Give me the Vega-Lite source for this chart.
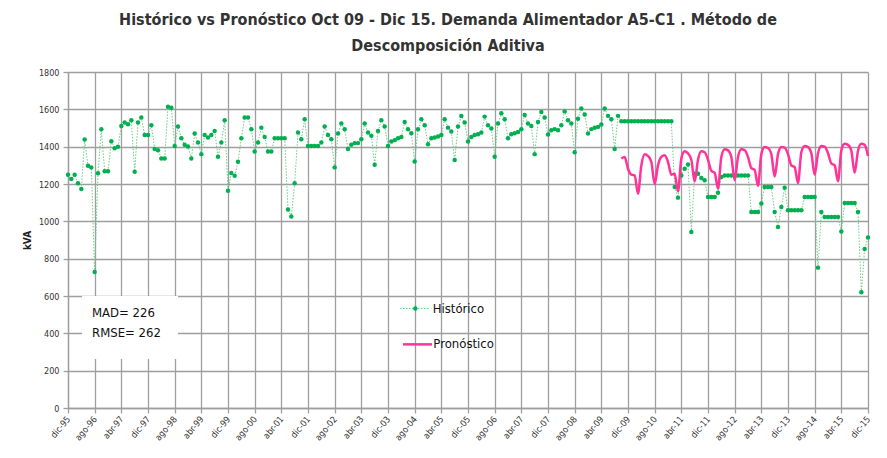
{
  "$schema": "https://vega.github.io/schema/vega-lite/v6.json",
  "width": 800,
  "height": 336,
  "autosize": {"type": "none"},
  "padding": {"left": 68, "top": 72, "right": 19, "bottom": 50},
  "background": "white",
  "title": {
    "text": ["Histórico vs Pronóstico Oct 09 - Dic 15. Demanda Alimentador  A5-C1  . Método de", "Descomposición Aditiva"],
    "font": "Liberation Sans Narrow, DejaVu Sans Condensed, sans-serif",
    "fontSize": 16,
    "fontWeight": "bold",
    "color": "#333333",
    "lineHeight": 26,
    "anchor": "middle",
    "dx": -20,
    "offset": 14
  },
  "config": {
    "view": {"stroke": null},
    "axis": {
      "labelFont": "Liberation Sans Narrow, DejaVu Sans Condensed, sans-serif",
      "labelFontSize": 9,
      "labelColor": "#333333",
      "labelOverlap": false,
      "gridColor": "#9E9E9E",
      "gridWidth": 1.3,
      "domainColor": "#9E9E9E",
      "domainWidth": 1.3,
      "tickColor": "#9E9E9E",
      "tickWidth": 1.3,
      "tickSize": 5
    }
  },
  "datasets": {
    "historico": [
      {"t":0,"kva":1250},{"t":1,"kva":1227},{"t":2,"kva":1250},{"t":3,"kva":1204},{"t":4,"kva":1173},{"t":5,"kva":1438},{"t":6,"kva":1298},{"t":7,"kva":1289},{"t":8,"kva":729},{"t":9,"kva":1257},{"t":10,"kva":1493},{"t":11,"kva":1268},
      {"t":12,"kva":1268},{"t":13,"kva":1429},{"t":14,"kva":1392},{"t":15,"kva":1399},{"t":16,"kva":1511},{"t":17,"kva":1529},{"t":18,"kva":1520},{"t":19,"kva":1541},{"t":20,"kva":1266},{"t":21,"kva":1529},{"t":22,"kva":1556},{"t":23,"kva":1463},
      {"t":24,"kva":1463},{"t":25,"kva":1515},{"t":26,"kva":1387},{"t":27,"kva":1381},{"t":28,"kva":1337},{"t":29,"kva":1337},{"t":30,"kva":1614},{"t":31,"kva":1609},{"t":32,"kva":1404},{"t":33,"kva":1508},{"t":34,"kva":1445},{"t":35,"kva":1410},
      {"t":36,"kva":1401},{"t":37,"kva":1337},{"t":38,"kva":1470},{"t":39,"kva":1422},{"t":40,"kva":1360},{"t":41,"kva":1463},{"t":42,"kva":1449},{"t":43,"kva":1463},{"t":44,"kva":1484},{"t":45,"kva":1346},{"t":46,"kva":1422},{"t":47,"kva":1541},
      {"t":48,"kva":1164},{"t":49,"kva":1259},{"t":50,"kva":1244},{"t":51,"kva":1319},{"t":52,"kva":1445},{"t":53,"kva":1556},{"t":54,"kva":1556},{"t":55,"kva":1493},{"t":56,"kva":1374},{"t":57,"kva":1422},{"t":58,"kva":1502},{"t":59,"kva":1452},
      {"t":60,"kva":1374},{"t":61,"kva":1374},{"t":62,"kva":1445},{"t":63,"kva":1445},{"t":64,"kva":1445},{"t":65,"kva":1445},{"t":66,"kva":1063},{"t":67,"kva":1026},{"t":68,"kva":1204},{"t":69,"kva":1476},{"t":70,"kva":1440},{"t":71,"kva":1547},
      {"t":72,"kva":1404},{"t":73,"kva":1404},{"t":74,"kva":1404},{"t":75,"kva":1404},{"t":76,"kva":1422},{"t":77,"kva":1508},{"t":78,"kva":1463},{"t":79,"kva":1440},{"t":80,"kva":1289},{"t":81,"kva":1470},{"t":82,"kva":1524},{"t":83,"kva":1493},
      {"t":84,"kva":1387},{"t":85,"kva":1410},{"t":86,"kva":1419},{"t":87,"kva":1419},{"t":88,"kva":1440},{"t":89,"kva":1524},{"t":90,"kva":1476},{"t":91,"kva":1458},{"t":92,"kva":1303},{"t":93,"kva":1484},{"t":94,"kva":1541},{"t":95,"kva":1508},
      {"t":96,"kva":1404},{"t":97,"kva":1428},{"t":98,"kva":1435},{"t":99,"kva":1445},{"t":100,"kva":1452},{"t":101,"kva":1532},{"t":102,"kva":1493},{"t":103,"kva":1472},{"t":104,"kva":1321},{"t":105,"kva":1493},{"t":106,"kva":1547},{"t":107,"kva":1515},
      {"t":108,"kva":1413},{"t":109,"kva":1445},{"t":110,"kva":1449},{"t":111,"kva":1454},{"t":112,"kva":1463},{"t":113,"kva":1547},{"t":114,"kva":1502},{"t":115,"kva":1481},{"t":116,"kva":1328},{"t":117,"kva":1508},{"t":118,"kva":1564},{"t":119,"kva":1529},
      {"t":120,"kva":1428},{"t":121,"kva":1452},{"t":122,"kva":1463},{"t":123,"kva":1467},{"t":124,"kva":1476},{"t":125,"kva":1561},{"t":126,"kva":1515},{"t":127,"kva":1497},{"t":128,"kva":1346},{"t":129,"kva":1524},{"t":130,"kva":1579},{"t":131,"kva":1547},
      {"t":132,"kva":1445},{"t":133,"kva":1467},{"t":134,"kva":1472},{"t":135,"kva":1479},{"t":136,"kva":1493},{"t":137,"kva":1570},{"t":138,"kva":1524},{"t":139,"kva":1511},{"t":140,"kva":1360},{"t":141,"kva":1532},{"t":142,"kva":1586},{"t":143,"kva":1556},
      {"t":144,"kva":1465},{"t":145,"kva":1488},{"t":146,"kva":1494},{"t":147,"kva":1488},{"t":148,"kva":1515},{"t":149,"kva":1589},{"t":150,"kva":1542},{"t":151,"kva":1524},{"t":152,"kva":1370},{"t":153,"kva":1550},{"t":154,"kva":1604},{"t":155,"kva":1572},
      {"t":156,"kva":1471},{"t":157,"kva":1494},{"t":158,"kva":1501},{"t":159,"kva":1506},{"t":160,"kva":1519},{"t":161,"kva":1604},{"t":162,"kva":1565},{"t":163,"kva":1547},{"t":164,"kva":1388},{"t":165,"kva":1565},{"t":166,"kva":1536},{"t":167,"kva":1536},
      {"t":168,"kva":1536},{"t":169,"kva":1536},{"t":170,"kva":1536},{"t":171,"kva":1536},{"t":172,"kva":1536},{"t":173,"kva":1536},{"t":174,"kva":1536},{"t":175,"kva":1536},{"t":176,"kva":1536},{"t":177,"kva":1536},{"t":178,"kva":1536},{"t":179,"kva":1536},
      {"t":180,"kva":1536},{"t":181,"kva":1536},{"t":182,"kva":1184},{"t":183,"kva":1127},{"t":184,"kva":1246},{"t":185,"kva":1282},{"t":186,"kva":1304},{"t":187,"kva":943},{"t":188,"kva":1255},{"t":189,"kva":1255},{"t":190,"kva":1232},{"t":191,"kva":1220},
      {"t":192,"kva":1130},{"t":193,"kva":1130},{"t":194,"kva":1130},{"t":195,"kva":1153},{"t":196,"kva":1237},{"t":197,"kva":1246},{"t":198,"kva":1246},{"t":199,"kva":1246},{"t":200,"kva":1246},{"t":201,"kva":1246},{"t":202,"kva":1246},{"t":203,"kva":1246},
      {"t":204,"kva":1246},{"t":205,"kva":1050},{"t":206,"kva":1050},{"t":207,"kva":1050},{"t":208,"kva":1095},{"t":209,"kva":1184},{"t":210,"kva":1184},{"t":211,"kva":1184},{"t":212,"kva":1050},{"t":213,"kva":970},{"t":214,"kva":1077},{"t":215,"kva":1180},
      {"t":216,"kva":1059},{"t":217,"kva":1059},{"t":218,"kva":1059},{"t":219,"kva":1059},{"t":220,"kva":1059},{"t":221,"kva":1130},{"t":222,"kva":1130},{"t":223,"kva":1130},{"t":224,"kva":1130},{"t":225,"kva":752},{"t":226,"kva":1050},{"t":227,"kva":1023},
      {"t":228,"kva":1023},{"t":229,"kva":1023},{"t":230,"kva":1023},{"t":231,"kva":1023},{"t":232,"kva":946},{"t":233,"kva":1098},{"t":234,"kva":1098},{"t":235,"kva":1098},{"t":236,"kva":1098},{"t":237,"kva":1050},{"t":238,"kva":620},{"t":239,"kva":852},
      {"t":240,"kva":914}
    ],
    "pronostico": [
      {"t":166,"kva":1336},{"t":167,"kva":1345},{"t":168,"kva":1282},{"t":169,"kva":1250},{"t":170,"kva":1246},{"t":171,"kva":1148},{"t":172,"kva":1300},{"t":173,"kva":1360},{"t":174,"kva":1350},{"t":175,"kva":1318},{"t":176,"kva":1200},{"t":177,"kva":1300},
      {"t":178,"kva":1345},{"t":179,"kva":1354},{"t":180,"kva":1318},{"t":181,"kva":1250},{"t":182,"kva":1255},{"t":183,"kva":1160},{"t":184,"kva":1336},{"t":185,"kva":1375},{"t":186,"kva":1364},{"t":187,"kva":1330},{"t":188,"kva":1213},{"t":189,"kva":1330},
      {"t":190,"kva":1375},{"t":191,"kva":1370},{"t":192,"kva":1330},{"t":193,"kva":1270},{"t":194,"kva":1260},{"t":195,"kva":1175},{"t":196,"kva":1345},{"t":197,"kva":1386},{"t":198,"kva":1380},{"t":199,"kva":1345},{"t":200,"kva":1220},{"t":201,"kva":1345},
      {"t":202,"kva":1386},{"t":203,"kva":1382},{"t":204,"kva":1345},{"t":205,"kva":1285},{"t":206,"kva":1275},{"t":207,"kva":1190},{"t":208,"kva":1360},{"t":209,"kva":1398},{"t":210,"kva":1393},{"t":211,"kva":1360},{"t":212,"kva":1240},{"t":213,"kva":1360},
      {"t":214,"kva":1398},{"t":215,"kva":1395},{"t":216,"kva":1360},{"t":217,"kva":1300},{"t":218,"kva":1290},{"t":219,"kva":1205},{"t":220,"kva":1370},{"t":221,"kva":1404},{"t":222,"kva":1398},{"t":223,"kva":1365},{"t":224,"kva":1250},{"t":225,"kva":1365},
      {"t":226,"kva":1404},{"t":227,"kva":1400},{"t":228,"kva":1365},{"t":229,"kva":1310},{"t":230,"kva":1300},{"t":231,"kva":1215},{"t":232,"kva":1380},{"t":233,"kva":1415},{"t":234,"kva":1410},{"t":235,"kva":1378},{"t":236,"kva":1260},{"t":237,"kva":1378},
      {"t":238,"kva":1415},{"t":239,"kva":1410},{"t":240,"kva":1350}
    ],
    "nota": [{"id": 1}]
  },
  "layer": [
    {
      "data": {"name": "historico"},
      "mark": {"type": "line", "color": "#6CCB8C", "strokeWidth": 1, "strokeDash": [1.5, 1.5]},
      "encoding": {
        "x": {"field": "t", "type": "quantitative", "scale": {"domain": [0, 240], "nice": false, "zero": false},
          "axis": {"title": null, "values": [0,8,16,24,32,40,48,56,64,72,80,88,96,104,112,120,128,136,144,152,160,168,176,184,192,200,208,216,224,232,240], "labelExpr": "['dic','ene','feb','mar','abr','may','jun','jul','ago','sep','oct','nov'][datum.value % 12] + '-' + ((((95 + floor((datum.value + 11) / 12)) % 100) < 10) ? '0' : '') + ((95 + floor((datum.value + 11) / 12)) % 100)", "labelAngle": -50, "labelPadding": 4, "grid": true}},
        "y": {"field": "kva", "type": "quantitative", "scale": {"domain": [0, 1800], "nice": false},
          "axis": {"title": "kVA", "titleFont": "Liberation Sans Narrow, DejaVu Sans Condensed, sans-serif", "titleFontSize": 10, "titleFontWeight": "bold", "titleColor": "#222222", "titlePadding": 6, "format": "d", "values": [0,200,400,600,800,1000,1200,1400,1600,1800], "labelPadding": 4, "grid": true}}
      }
    },
    {
      "data": {"name": "nota"},
      "mark": {"type": "rect", "fill": "white", "stroke": null},
      "encoding": {
        "x": {"datum": 4.2, "type": "quantitative", "scale": {"domain": [0, 240], "nice": false, "zero": false},
          "axis": {"title": null, "values": [0,8,16,24,32,40,48,56,64,72,80,88,96,104,112,120,128,136,144,152,160,168,176,184,192,200,208,216,224,232,240], "labelExpr": "['dic','ene','feb','mar','abr','may','jun','jul','ago','sep','oct','nov'][datum.value % 12] + '-' + ((((95 + floor((datum.value + 11) / 12)) % 100) < 10) ? '0' : '') + ((95 + floor((datum.value + 11) / 12)) % 100)", "labelAngle": -50, "labelPadding": 4, "grid": true}},
        "x2": {"datum": 33},
        "y": {"datum": 262, "type": "quantitative", "scale": {"domain": [0, 1800], "nice": false},
          "axis": {"title": "kVA", "titleFont": "Liberation Sans Narrow, DejaVu Sans Condensed, sans-serif", "titleFontSize": 10, "titleFontWeight": "bold", "titleColor": "#222222", "titlePadding": 6, "format": "d", "values": [0,200,400,600,800,1000,1200,1400,1600,1800], "labelPadding": 4, "grid": true}},
        "y2": {"datum": 600}
      }
    },
    {
      "data": {"name": "nota"},
      "mark": {"type": "text", "align": "left", "baseline": "middle", "fontSize": 13, "font": "Liberation Sans Narrow, DejaVu Sans Condensed, sans-serif", "color": "#111111"},
      "encoding": {
        "x": {"datum": 7.2, "type": "quantitative", "scale": {"domain": [0, 240], "nice": false, "zero": false},
          "axis": {"title": null, "values": [0,8,16,24,32,40,48,56,64,72,80,88,96,104,112,120,128,136,144,152,160,168,176,184,192,200,208,216,224,232,240], "labelExpr": "['dic','ene','feb','mar','abr','may','jun','jul','ago','sep','oct','nov'][datum.value % 12] + '-' + ((((95 + floor((datum.value + 11) / 12)) % 100) < 10) ? '0' : '') + ((95 + floor((datum.value + 11) / 12)) % 100)", "labelAngle": -50, "labelPadding": 4, "grid": true}},
        "y": {"datum": 507, "type": "quantitative", "scale": {"domain": [0, 1800], "nice": false},
          "axis": {"title": "kVA", "titleFont": "Liberation Sans Narrow, DejaVu Sans Condensed, sans-serif", "titleFontSize": 10, "titleFontWeight": "bold", "titleColor": "#222222", "titlePadding": 6, "format": "d", "values": [0,200,400,600,800,1000,1200,1400,1600,1800], "labelPadding": 4, "grid": true}},
        "text": {"value": "MAD= 226"}
      }
    },
    {
      "data": {"name": "nota"},
      "mark": {"type": "text", "align": "left", "baseline": "middle", "fontSize": 13, "font": "Liberation Sans Narrow, DejaVu Sans Condensed, sans-serif", "color": "#111111"},
      "encoding": {
        "x": {"datum": 7.2, "type": "quantitative", "scale": {"domain": [0, 240], "nice": false, "zero": false},
          "axis": {"title": null, "values": [0,8,16,24,32,40,48,56,64,72,80,88,96,104,112,120,128,136,144,152,160,168,176,184,192,200,208,216,224,232,240], "labelExpr": "['dic','ene','feb','mar','abr','may','jun','jul','ago','sep','oct','nov'][datum.value % 12] + '-' + ((((95 + floor((datum.value + 11) / 12)) % 100) < 10) ? '0' : '') + ((95 + floor((datum.value + 11) / 12)) % 100)", "labelAngle": -50, "labelPadding": 4, "grid": true}},
        "y": {"datum": 400, "type": "quantitative", "scale": {"domain": [0, 1800], "nice": false},
          "axis": {"title": "kVA", "titleFont": "Liberation Sans Narrow, DejaVu Sans Condensed, sans-serif", "titleFontSize": 10, "titleFontWeight": "bold", "titleColor": "#222222", "titlePadding": 6, "format": "d", "values": [0,200,400,600,800,1000,1200,1400,1600,1800], "labelPadding": 4, "grid": true}},
        "text": {"value": "RMSE= 262"}
      }
    },
    {
      "data": {"name": "nota"},
      "mark": {"type": "rule", "color": "#6CCB8C", "strokeWidth": 1, "strokeDash": [1.5, 1.5]},
      "encoding": {
        "x": {"datum": 99.6, "type": "quantitative", "scale": {"domain": [0, 240], "nice": false, "zero": false},
          "axis": {"title": null, "values": [0,8,16,24,32,40,48,56,64,72,80,88,96,104,112,120,128,136,144,152,160,168,176,184,192,200,208,216,224,232,240], "labelExpr": "['dic','ene','feb','mar','abr','may','jun','jul','ago','sep','oct','nov'][datum.value % 12] + '-' + ((((95 + floor((datum.value + 11) / 12)) % 100) < 10) ? '0' : '') + ((95 + floor((datum.value + 11) / 12)) % 100)", "labelAngle": -50, "labelPadding": 4, "grid": true}},
        "x2": {"datum": 108.2},
        "y": {"datum": 533, "type": "quantitative", "scale": {"domain": [0, 1800], "nice": false},
          "axis": {"title": "kVA", "titleFont": "Liberation Sans Narrow, DejaVu Sans Condensed, sans-serif", "titleFontSize": 10, "titleFontWeight": "bold", "titleColor": "#222222", "titlePadding": 6, "format": "d", "values": [0,200,400,600,800,1000,1200,1400,1600,1800], "labelPadding": 4, "grid": true}}
      }
    },
    {
      "data": {"name": "nota"},
      "mark": {"type": "point", "filled": true, "color": "#00B050", "size": 20, "opacity": 1},
      "encoding": {
        "x": {"datum": 104.2, "type": "quantitative", "scale": {"domain": [0, 240], "nice": false, "zero": false},
          "axis": {"title": null, "values": [0,8,16,24,32,40,48,56,64,72,80,88,96,104,112,120,128,136,144,152,160,168,176,184,192,200,208,216,224,232,240], "labelExpr": "['dic','ene','feb','mar','abr','may','jun','jul','ago','sep','oct','nov'][datum.value % 12] + '-' + ((((95 + floor((datum.value + 11) / 12)) % 100) < 10) ? '0' : '') + ((95 + floor((datum.value + 11) / 12)) % 100)", "labelAngle": -50, "labelPadding": 4, "grid": true}},
        "y": {"datum": 533, "type": "quantitative", "scale": {"domain": [0, 1800], "nice": false},
          "axis": {"title": "kVA", "titleFont": "Liberation Sans Narrow, DejaVu Sans Condensed, sans-serif", "titleFontSize": 10, "titleFontWeight": "bold", "titleColor": "#222222", "titlePadding": 6, "format": "d", "values": [0,200,400,600,800,1000,1200,1400,1600,1800], "labelPadding": 4, "grid": true}}
      }
    },
    {
      "data": {"name": "nota"},
      "mark": {"type": "text", "align": "left", "baseline": "middle", "fontSize": 13, "font": "Liberation Sans Narrow, DejaVu Sans Condensed, sans-serif", "color": "#111111"},
      "encoding": {
        "x": {"datum": 109.4, "type": "quantitative", "scale": {"domain": [0, 240], "nice": false, "zero": false},
          "axis": {"title": null, "values": [0,8,16,24,32,40,48,56,64,72,80,88,96,104,112,120,128,136,144,152,160,168,176,184,192,200,208,216,224,232,240], "labelExpr": "['dic','ene','feb','mar','abr','may','jun','jul','ago','sep','oct','nov'][datum.value % 12] + '-' + ((((95 + floor((datum.value + 11) / 12)) % 100) < 10) ? '0' : '') + ((95 + floor((datum.value + 11) / 12)) % 100)", "labelAngle": -50, "labelPadding": 4, "grid": true}},
        "y": {"datum": 533, "type": "quantitative", "scale": {"domain": [0, 1800], "nice": false},
          "axis": {"title": "kVA", "titleFont": "Liberation Sans Narrow, DejaVu Sans Condensed, sans-serif", "titleFontSize": 10, "titleFontWeight": "bold", "titleColor": "#222222", "titlePadding": 6, "format": "d", "values": [0,200,400,600,800,1000,1200,1400,1600,1800], "labelPadding": 4, "grid": true}},
        "text": {"value": "Histórico"}
      }
    },
    {
      "data": {"name": "nota"},
      "mark": {"type": "rule", "color": "#FF3399", "strokeWidth": 2.5},
      "encoding": {
        "x": {"datum": 100.5, "type": "quantitative", "scale": {"domain": [0, 240], "nice": false, "zero": false},
          "axis": {"title": null, "values": [0,8,16,24,32,40,48,56,64,72,80,88,96,104,112,120,128,136,144,152,160,168,176,184,192,200,208,216,224,232,240], "labelExpr": "['dic','ene','feb','mar','abr','may','jun','jul','ago','sep','oct','nov'][datum.value % 12] + '-' + ((((95 + floor((datum.value + 11) / 12)) % 100) < 10) ? '0' : '') + ((95 + floor((datum.value + 11) / 12)) % 100)", "labelAngle": -50, "labelPadding": 4, "grid": true}},
        "x2": {"datum": 109.2},
        "y": {"datum": 341, "type": "quantitative", "scale": {"domain": [0, 1800], "nice": false},
          "axis": {"title": "kVA", "titleFont": "Liberation Sans Narrow, DejaVu Sans Condensed, sans-serif", "titleFontSize": 10, "titleFontWeight": "bold", "titleColor": "#222222", "titlePadding": 6, "format": "d", "values": [0,200,400,600,800,1000,1200,1400,1600,1800], "labelPadding": 4, "grid": true}}
      }
    },
    {
      "data": {"name": "nota"},
      "mark": {"type": "text", "align": "left", "baseline": "middle", "fontSize": 13, "font": "Liberation Sans Narrow, DejaVu Sans Condensed, sans-serif", "color": "#111111"},
      "encoding": {
        "x": {"datum": 109.6, "type": "quantitative", "scale": {"domain": [0, 240], "nice": false, "zero": false},
          "axis": {"title": null, "values": [0,8,16,24,32,40,48,56,64,72,80,88,96,104,112,120,128,136,144,152,160,168,176,184,192,200,208,216,224,232,240], "labelExpr": "['dic','ene','feb','mar','abr','may','jun','jul','ago','sep','oct','nov'][datum.value % 12] + '-' + ((((95 + floor((datum.value + 11) / 12)) % 100) < 10) ? '0' : '') + ((95 + floor((datum.value + 11) / 12)) % 100)", "labelAngle": -50, "labelPadding": 4, "grid": true}},
        "y": {"datum": 341, "type": "quantitative", "scale": {"domain": [0, 1800], "nice": false},
          "axis": {"title": "kVA", "titleFont": "Liberation Sans Narrow, DejaVu Sans Condensed, sans-serif", "titleFontSize": 10, "titleFontWeight": "bold", "titleColor": "#222222", "titlePadding": 6, "format": "d", "values": [0,200,400,600,800,1000,1200,1400,1600,1800], "labelPadding": 4, "grid": true}},
        "text": {"value": "Pronóstico"}
      }
    },
    {
      "data": {"name": "historico"},
      "mark": {"type": "point", "filled": true, "color": "#00B050", "size": 20, "opacity": 1},
      "encoding": {
        "x": {"field": "t", "type": "quantitative", "scale": {"domain": [0, 240], "nice": false, "zero": false},
          "axis": {"title": null, "values": [0,8,16,24,32,40,48,56,64,72,80,88,96,104,112,120,128,136,144,152,160,168,176,184,192,200,208,216,224,232,240], "labelExpr": "['dic','ene','feb','mar','abr','may','jun','jul','ago','sep','oct','nov'][datum.value % 12] + '-' + ((((95 + floor((datum.value + 11) / 12)) % 100) < 10) ? '0' : '') + ((95 + floor((datum.value + 11) / 12)) % 100)", "labelAngle": -50, "labelPadding": 4, "grid": true}},
        "y": {"field": "kva", "type": "quantitative", "scale": {"domain": [0, 1800], "nice": false},
          "axis": {"title": "kVA", "titleFont": "Liberation Sans Narrow, DejaVu Sans Condensed, sans-serif", "titleFontSize": 10, "titleFontWeight": "bold", "titleColor": "#222222", "titlePadding": 6, "format": "d", "values": [0,200,400,600,800,1000,1200,1400,1600,1800], "labelPadding": 4, "grid": true}}
      }
    },
    {
      "data": {"name": "pronostico"},
      "mark": {"type": "line", "color": "#FF3399", "strokeWidth": 2.5, "interpolate": "monotone"},
      "encoding": {
        "x": {"field": "t", "type": "quantitative", "scale": {"domain": [0, 240], "nice": false, "zero": false},
          "axis": {"title": null, "values": [0,8,16,24,32,40,48,56,64,72,80,88,96,104,112,120,128,136,144,152,160,168,176,184,192,200,208,216,224,232,240], "labelExpr": "['dic','ene','feb','mar','abr','may','jun','jul','ago','sep','oct','nov'][datum.value % 12] + '-' + ((((95 + floor((datum.value + 11) / 12)) % 100) < 10) ? '0' : '') + ((95 + floor((datum.value + 11) / 12)) % 100)", "labelAngle": -50, "labelPadding": 4, "grid": true}},
        "y": {"field": "kva", "type": "quantitative", "scale": {"domain": [0, 1800], "nice": false},
          "axis": {"title": "kVA", "titleFont": "Liberation Sans Narrow, DejaVu Sans Condensed, sans-serif", "titleFontSize": 10, "titleFontWeight": "bold", "titleColor": "#222222", "titlePadding": 6, "format": "d", "values": [0,200,400,600,800,1000,1200,1400,1600,1800], "labelPadding": 4, "grid": true}}
      }
    }
  ]
}
